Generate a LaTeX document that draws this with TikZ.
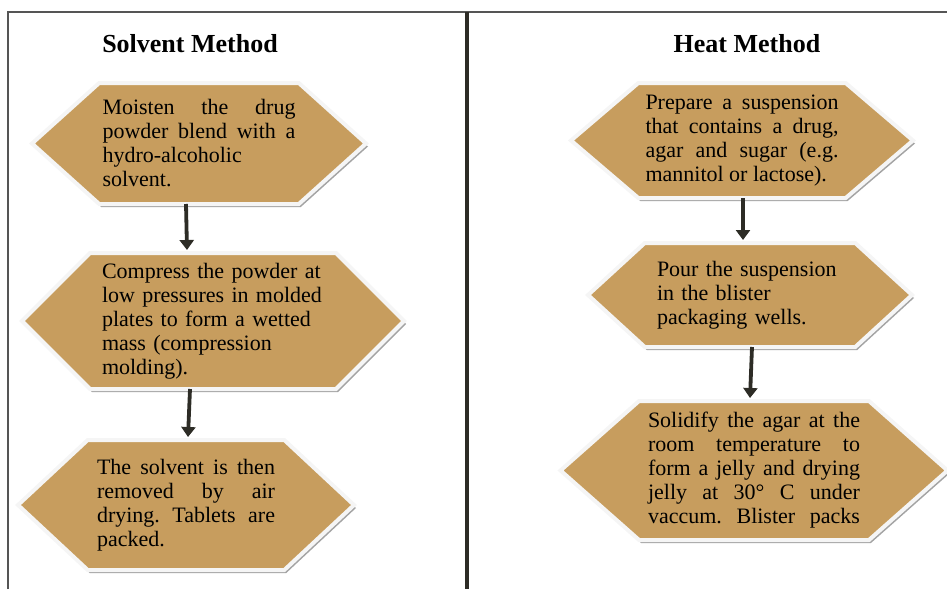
\documentclass[tikz,border=0pt]{standalone}
\usepackage{fontspec}
\setmainfont{Liberation Serif}
\usetikzlibrary{shapes.symbols,shadows,arrows.meta}
\definecolor{tanfill}{RGB}{199,157,94}
\definecolor{arrowdark}{RGB}{45,44,38}
\definecolor{framegray}{RGB}{85,85,85}
\tolerance=10000
\hbadness=10000
\frenchspacing

\begin{document}
\begin{tikzpicture}[
    x=1pt, y=-1pt,
    stepbox/.style={signal, signal to=east and west, fill=tanfill,
        draw=white!96!black, line width=4pt, outer sep=0pt, inner sep=0pt,
        drop shadow={shadow xshift=2pt, shadow yshift=-3pt, fill=black!40, opacity=0.9},
        font=\fontsize{22}{24}\selectfont, align=justify},
    flowarrow/.style={-{Triangle[width=14pt,length=10pt]}, line width=3.8pt, arrowdark},
    methodtitle/.style={font=\fontsize{26}{30}\selectfont\bfseries, anchor=base}
]
\useasboundingbox (0,0) rectangle (947,589);

% frame
\draw[framegray, line width=1.5pt] (8,589) -- (8,12) -- (947,12);
\draw[arrowdark, line width=3.5pt] (467,12) -- (467,589);

% solvent method
\node[methodtitle] (soltitle) at (190,52) {Solvent Method};
\node[stepbox, minimum width=334, minimum height=121, signal pointer angle=84,
    text width=193] (moisten) at (199,143.5)
    {Moisten the drug\linebreak powder blend with a\linebreak hydro-alcoholic\\ solvent.};
\node[stepbox, minimum width=382, minimum height=136, signal pointer angle=90,
    text width=222, align=left] (compress) at (213,321)
    {Compress the powder at\\ low pressures in molded\\ plates to form a wetted\\ mass (compression\\ molding).};
\node[stepbox, minimum width=336, minimum height=130, signal pointer angle=86,
    text width=178] (dry) at (186,505)
    {The solvent is then\linebreak removed by air\linebreak drying. Tablets are\linebreak packed.};

% heat method
\node[methodtitle] (heattitle) at (747,52) {Heat Method};
\node[stepbox, minimum width=342, minimum height=115, signal pointer angle=81,
    text width=193] (prepare) at (742,140.5)
    {Prepare a suspension\linebreak that contains a drug,\linebreak agar and sugar (e.g.\linebreak mannitol or lactose).};
\node[stepbox, minimum width=324, minimum height=104, signal pointer angle=85,
    text width=186, align=left] (pour) at (750,295)
    {Pour the suspension\\ in the blister\\ packaging wells.};
\node[stepbox, minimum width=387, minimum height=139, signal pointer angle=83,
    text width=212] (solidify) at (754,470.5)
    {Solidify the agar at the\linebreak room temperature to\linebreak form a jelly and drying\linebreak jelly at 30° C under\linebreak \makebox[\hsize][s]{vaccum. Blister packs}};

% arrows
\draw[flowarrow] ([xshift=-13pt]moisten.south) -- ([xshift=-26pt,yshift=3pt]compress.north);
\draw[flowarrow] ([xshift=-23pt]compress.south) -- ([xshift=2pt,yshift=3pt]dry.north);
\draw[flowarrow] ([xshift=1pt]prepare.south) -- ([xshift=-7pt,yshift=3pt]pour.north);
\draw[flowarrow] ([xshift=2pt]pour.south) -- ([xshift=-4pt,yshift=3pt]solidify.north);
\end{tikzpicture}
\end{document}
